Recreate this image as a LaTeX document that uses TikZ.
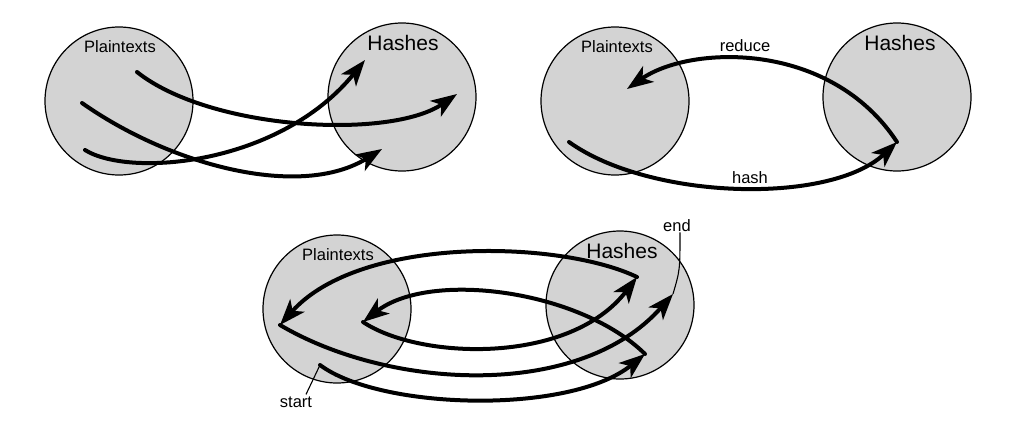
\documentclass[tikz,border=0pt]{standalone}
\usepackage{fontspec}
\setmainfont{Liberation Sans}
\usetikzlibrary{arrows.meta}
\definecolor{setgray}{HTML}{D3D3D3}
\begin{document}
\begin{tikzpicture}[x=1pt,y=-1pt,
  setcirc/.style={circle,draw=black,line width=1.2pt,fill=setgray,minimum size=148pt,inner sep=0pt},
  smalllbl/.style={font=\fontsize{16.5}{18}\selectfont,inner sep=0pt},
  biglbl/.style={font=\fontsize{21}{24}\selectfont,inner sep=0pt},
  flow/.style={line width=4pt,line cap=round,-{Stealth[length=26pt,width=19pt,inset=7pt]}},
  pointer/.style={line width=1.1pt}]
\useasboundingbox (0,0) rectangle (1009,437);

% ---------- panel 1 ----------
\node[setcirc] (p1) at (119,101) {};
\node[setcirc] (h1) at (402,97) {};
\node[smalllbl] (p1l) at (120,47) {Plaintexts};
\node[biglbl] (h1l) at (403,43) {Hashes};
\coordinate (a1s) at (137,72);
\coordinate (a1e) at (457,94);
\coordinate (a2s) at (82,103);
\coordinate (a2e) at (382,149);
\coordinate (a3s) at (85,150);
\coordinate (a3e) at (365,60);
\draw[flow] (a1s) .. controls (210,130) and (390,140) .. (a1e);
\draw[flow] (a2s) .. controls (170,165) and (300,200) .. (a2e);
\draw[flow] (a3s) .. controls (130,178) and (280,165) .. (a3e);

% ---------- panel 2 ----------
\node[setcirc] (p2) at (615,101) {};
\node[setcirc] (h2) at (897,97) {};
\node[smalllbl] (p2l) at (617,47) {Plaintexts};
\node[biglbl] (h2l) at (900,43) {Hashes};
\node[smalllbl] (red) at (745,46) {reduce};
\node[smalllbl] (hsh) at (750,178) {hash};
\coordinate (b1s) at (569,142);
\coordinate (b1e) at (897,142);
\coordinate (b2e) at (627,89);
\draw[flow] (b1s) .. controls (650,200) and (830,205) .. (b1e);
\draw[flow] (b1e) .. controls (830,40) and (690,45) .. (b2e);

% ---------- panel 3 ----------
\node[setcirc] (p3) at (337,309) {};
\node[setcirc] (h3) at (620,305) {};
\node[smalllbl] (p3l) at (338,255) {Plaintexts};
\node[biglbl] (h3l) at (622,251) {Hashes};
\node[smalllbl] (stl) at (296,402) {start};
\node[smalllbl] (enl) at (677,226) {end};
\coordinate (cS) at (320,365);
\coordinate (c1) at (645,354);
\coordinate (c2) at (363,322);
\coordinate (c3) at (637,277);
\coordinate (c4) at (280,325);
\coordinate (cE) at (673,294);
\draw[flow] (cS) .. controls (380,410) and (570,415) .. (c1);
\draw[flow] (c1) .. controls (580,290) and (430,270) .. (c2);
\draw[flow] (c2) .. controls (420,360) and (570,365) .. (c3);
\draw[flow] (c3) .. controls (560,240) and (360,235) .. (c4);
\draw[flow] (c4) .. controls (390,390) and (580,400) .. (cE);
\draw[pointer] (stl.north) ++(10,-2) coordinate (stp) -- (cS);
\draw[pointer] (enl.south) ++(3,0) coordinate (enp) .. controls (680,270) .. (cE);
\end{tikzpicture}
\end{document}
